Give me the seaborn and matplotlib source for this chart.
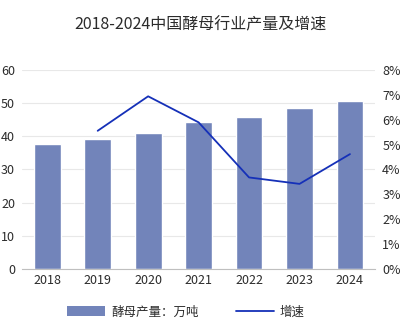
import matplotlib
matplotlib.use("Agg")
import matplotlib.pyplot as plt
import seaborn as sns
import pandas as pd
from matplotlib.ticker import FuncFormatter, MultipleLocator
from matplotlib.patches import Patch
from matplotlib.lines import Line2D

years = ["2018", "2019", "2020", "2021", "2022", "2023", "2024"]
output = [37.8, 39.1, 40.9, 44.5, 45.8, 48.6, 50.6]   # 万吨
growth_years = ["2019", "2020", "2021", "2022", "2023", "2024"]
growth = [5.56, 6.95, 5.9, 3.68, 3.42, 4.62]          # %

bar_color = "#7284BA"
line_color = "#1530B8"
text_color = "#2b2b2b"

sns.set_theme(style="white")
plt.rcParams["font.family"] = ["Noto Sans CJK SC", "DejaVu Sans"]

fig = plt.figure(figsize=(4.0, 3.33), dpi=100)
ax = fig.add_axes([0.055, 0.193, 0.883, 0.596])

df = pd.DataFrame({"year": years, "output": output})
sns.barplot(data=df, x="year", y="output", color=bar_color, width=0.53,
            saturation=1, ax=ax, zorder=2)
ax.set_xlim(-0.5, 6.5)
ax.set_ylim(0, 60)
ax.yaxis.set_major_locator(MultipleLocator(10))
ax.grid(axis="y", color="#e8e8e8", linewidth=0.8, zorder=0)
ax.set_axisbelow(True)
ax.set_xlabel("")
ax.set_ylabel("")
for s in ["top", "left", "right"]:
    ax.spines[s].set_visible(False)
ax.spines["bottom"].set_color("#bfbfbf")
ax.spines["bottom"].set_linewidth(0.8)
ax.tick_params(axis="both", length=0, colors=text_color, labelsize=9)
ax.tick_params(axis="y", pad=5)
ax.tick_params(axis="x", pad=4)

ax2 = ax.twinx()
gdf = pd.DataFrame({"pos": [years.index(y) for y in growth_years], "growth": growth})
sns.lineplot(data=gdf, x="pos", y="growth", color=line_color, linewidth=1.3, ax=ax2)
ax2.set_ylim(0, 8)
ax2.set_xlim(-0.5, 6.5)
ax2.yaxis.set_major_locator(MultipleLocator(1))
ax2.yaxis.set_major_formatter(FuncFormatter(lambda v, p: f"{v:.0f}%"))
ax2.set_xlabel("")
ax2.set_ylabel("")
for s in ["top", "left", "right", "bottom"]:
    ax2.spines[s].set_visible(False)
ax2.tick_params(axis="y", length=0, colors=text_color, labelsize=9, pad=5)

fig.text(0.5, 0.925, "2018-2024中国酵母行业产量及增速", ha="center", va="center",
         fontsize=11.5, color=text_color)

handles = [Patch(facecolor=bar_color, edgecolor="none"),
           Line2D([0], [0], color=line_color, linewidth=1.3)]
fig.legend(handles, ["酵母产量：万吨", "增速"], loc="center", bbox_to_anchor=(0.465, 0.063),
           ncol=2, frameon=False, fontsize=9, handlelength=3.0, handleheight=0.9,
           handletextpad=0.5, columnspacing=3.0, labelcolor=text_color)

fig.savefig("out.png", dpi=100, facecolor="white")
